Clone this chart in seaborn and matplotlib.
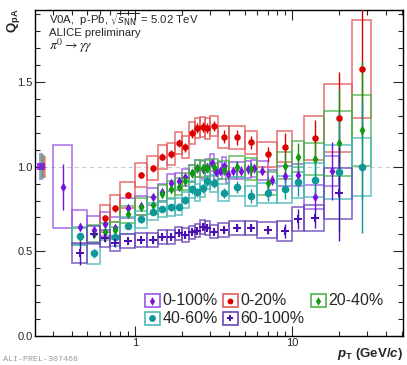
import numpy as np
import pandas as pd
import matplotlib
matplotlib.use("Agg")
import matplotlib.pyplot as plt
import seaborn as sns
from matplotlib.patches import Rectangle
from matplotlib.ticker import MultipleLocator, FixedLocator, LogLocator, NullFormatter, FormatStrFormatter

# pi0 Q_pA vs pT (GeV/c)
# bin edges, central value, stat. error, syst. error for each centrality class
mb_lo = [0.3, 0.4, 0.5, 0.6, 0.7, 0.8, 1.0, 1.2, 1.4, 1.6, 1.8, 2.0, 2.2, 2.4, 2.6, 2.8, 3.0, 3.2, 3.4, 3.6, 3.8, 4.0, 4.5, 5.0, 5.5, 6.0, 7.0, 8.0, 10, 12, 16]
mb_hi = [0.4, 0.5, 0.6, 0.7, 0.8, 1.0, 1.2, 1.4, 1.6, 1.8, 2.0, 2.2, 2.4, 2.6, 2.8, 3.0, 3.2, 3.4, 3.6, 3.8, 4.0, 4.5, 5.0, 5.5, 6.0, 7.0, 8.0, 10, 12, 16, 20]
mb_val = [0.881, 0.645, 0.626, 0.661, 0.636, 0.757, 0.769, 0.822, 0.85, 0.905, 0.915, 0.937, 0.96, 0.99, 0.984, 0.996, 1.023, 0.97, 0.976, 1.004, 0.955, 0.976, 0.976, 0.984, 0.99, 0.976, 0.923, 0.946, 0.95, 0.822, 0.974]
mb_stat = [0.135, 0.02, 0.02, 0.02, 0.02, 0.015, 0.015, 0.015, 0.015, 0.015, 0.015, 0.015, 0.015, 0.02, 0.02, 0.02, 0.02, 0.02, 0.02, 0.02, 0.02, 0.02, 0.025, 0.025, 0.025, 0.025, 0.03, 0.04, 0.05, 0.07, 0.17]
mb_sys = [0.244, 0.10, 0.08, 0.07, 0.065, 0.06, 0.055, 0.05, 0.05, 0.05, 0.05, 0.05, 0.05, 0.05, 0.05, 0.05, 0.05, 0.05, 0.05, 0.05, 0.05, 0.05, 0.05, 0.05, 0.05, 0.055, 0.06, 0.06, 0.065, 0.07, 0.09]

c020_lo = [0.6, 0.7, 0.8, 1.0, 1.2, 1.4, 1.6, 1.8, 2.0, 2.2, 2.4, 2.6, 2.8, 3.0, 3.4, 4.0, 5.0, 6.0, 8.0, 12, 16, 24]
c020_hi = [0.7, 0.8, 1.0, 1.2, 1.4, 1.6, 1.8, 2.0, 2.2, 2.4, 2.6, 2.8, 3.0, 3.4, 4.0, 5.0, 6.0, 8.0, 10, 16, 24, 32]
c020_val = [0.695, 0.754, 0.832, 0.95, 0.99, 1.058, 1.074, 1.141, 1.114, 1.196, 1.23, 1.236, 1.226, 1.24, 1.177, 1.173, 1.143, 1.073, 1.118, 1.167, 1.289, 1.576]
c020_stat = [0.02, 0.02, 0.02, 0.02, 0.02, 0.02, 0.025, 0.025, 0.025, 0.025, 0.03, 0.03, 0.03, 0.03, 0.04, 0.045, 0.04, 0.045, 0.08, 0.11, 0.27, 0.40]
c020_sys = [0.08, 0.08, 0.075, 0.07, 0.07, 0.07, 0.065, 0.065, 0.065, 0.065, 0.06, 0.06, 0.06, 0.06, 0.065, 0.066, 0.07, 0.075, 0.09, 0.13, 0.20, 0.29]

c2040_lo = [0.4, 0.5, 0.6, 0.7, 0.8, 1.0, 1.2, 1.4, 1.6, 1.8, 2.0, 2.2, 2.4, 2.6, 2.8, 3.0, 3.4, 4.0, 5.0, 6.0, 8.0, 10, 12, 16, 24]
c2040_hi = [0.5, 0.6, 0.7, 0.8, 1.0, 1.2, 1.4, 1.6, 1.8, 2.0, 2.2, 2.4, 2.6, 2.8, 3.0, 3.4, 4.0, 5.0, 6.0, 8.0, 10, 12, 16, 24, 32]
c2040_val = [0.585, 0.603, 0.616, 0.626, 0.72, 0.763, 0.773, 0.84, 0.866, 0.88, 0.913, 0.96, 0.99, 0.99, 0.99, 0.996, 0.98, 1.0, 0.984, 0.901, 1.005, 1.059, 1.045, 1.137, 1.216]
c2040_stat = [0.02, 0.02, 0.02, 0.02, 0.02, 0.02, 0.02, 0.02, 0.02, 0.02, 0.025, 0.025, 0.025, 0.025, 0.03, 0.03, 0.03, 0.035, 0.04, 0.04, 0.07, 0.08, 0.10, 0.32, 0.41]
c2040_sys = [0.05, 0.05, 0.05, 0.05, 0.05, 0.05, 0.05, 0.05, 0.05, 0.05, 0.05, 0.05, 0.05, 0.05, 0.05, 0.05, 0.055, 0.06, 0.065, 0.07, 0.08, 0.09, 0.095, 0.19, 0.21]

c4060_lo = [0.4, 0.5, 0.7, 0.8, 1.0, 1.2, 1.4, 1.6, 1.8, 2.0, 2.2, 2.4, 2.6, 2.8, 3.0, 3.4, 4.0, 5.0, 6.0, 8.0, 10, 12, 16, 24]
c4060_hi = [0.5, 0.6, 0.8, 1.0, 1.2, 1.4, 1.6, 1.8, 2.0, 2.2, 2.4, 2.6, 2.8, 3.0, 3.4, 4.0, 5.0, 6.0, 8.0, 10, 12, 16, 24, 32]
c4060_val = [0.59, 0.488, 0.586, 0.651, 0.69, 0.734, 0.75, 0.76, 0.763, 0.803, 0.866, 0.848, 0.872, 0.917, 0.901, 0.846, 0.881, 0.826, 0.846, 0.866, 0.907, 0.923, 0.966, 0.999]
c4060_stat = [0.02, 0.025, 0.02, 0.02, 0.02, 0.02, 0.02, 0.02, 0.02, 0.025, 0.025, 0.025, 0.025, 0.03, 0.03, 0.03, 0.035, 0.04, 0.05, 0.06, 0.08, 0.10, 0.35, 0.39]
c4060_sys = [0.055, 0.06, 0.055, 0.05, 0.05, 0.05, 0.05, 0.05, 0.05, 0.05, 0.05, 0.05, 0.05, 0.05, 0.05, 0.05, 0.055, 0.06, 0.06, 0.08, 0.09, 0.10, 0.16, 0.17]

c60100_lo = [0.4, 0.5, 0.6, 0.7, 0.8, 1.0, 1.2, 1.4, 1.6, 1.8, 2.0, 2.2, 2.4, 2.6, 2.8, 3.0, 3.4, 4.0, 5.0, 6.0, 8.0, 10, 12, 16]
c60100_hi = [0.5, 0.6, 0.7, 0.8, 1.0, 1.2, 1.4, 1.6, 1.8, 2.0, 2.2, 2.4, 2.6, 2.8, 3.0, 3.4, 4.0, 5.0, 6.0, 8.0, 10, 12, 16, 24]
c60100_val = [0.492, 0.602, 0.577, 0.547, 0.561, 0.567, 0.567, 0.586, 0.586, 0.606, 0.596, 0.612, 0.622, 0.642, 0.639, 0.616, 0.626, 0.639, 0.639, 0.626, 0.62, 0.69, 0.698, 0.842]
c60100_stat = [0.07, 0.02, 0.02, 0.02, 0.015, 0.015, 0.015, 0.015, 0.015, 0.015, 0.015, 0.015, 0.015, 0.015, 0.015, 0.015, 0.02, 0.02, 0.02, 0.025, 0.04, 0.06, 0.06, 0.28]
c60100_sys = [0.06, 0.05, 0.05, 0.045, 0.04, 0.04, 0.04, 0.04, 0.04, 0.04, 0.04, 0.04, 0.04, 0.04, 0.04, 0.04, 0.04, 0.04, 0.04, 0.045, 0.06, 0.07, 0.077, 0.15]

# normalisation uncertainties drawn at Q_pA = 1 on the left
norm_labels = ["60-100%", "40-60%", "20-40%", "0-20%", "0-100%"]
norm_unc = [0.08, 0.075, 0.07, 0.065, 0.02]

labels = ["0-100%", "0-20%", "20-40%", "40-60%", "60-100%"]

# style per class: marker colour, box colour, marker, size
style = {
    "0-100%": ("#7a10e0", "#9a55e6", "d", 24),
    "0-20%": ("#dd0000", "#e25a5a", "o", 22),
    "20-40%": ("#0f9a0f", "#4cb44c", "d", 24),
    "40-60%": ("#0f9898", "#4cb8b8", "o", 30),
    "60-100%": ("#4a10b0", "#6a44b8", "P", 30),
}

series = {
    "0-100%": (mb_lo, mb_hi, mb_val, mb_stat, mb_sys),
    "0-20%": (c020_lo, c020_hi, c020_val, c020_stat, c020_sys),
    "20-40%": (c2040_lo, c2040_hi, c2040_val, c2040_stat, c2040_sys),
    "40-60%": (c4060_lo, c4060_hi, c4060_val, c4060_stat, c4060_sys),
    "60-100%": (c60100_lo, c60100_hi, c60100_val, c60100_stat, c60100_sys),
}

sns.set_style("ticks")
plt.rcParams["font.family"] = ["Liberation Sans", "DejaVu Sans"]
plt.rcParams["mathtext.fontset"] = "custom"
plt.rcParams["mathtext.rm"] = "Liberation Sans:bold"
plt.rcParams["mathtext.it"] = "Liberation Sans:bold:italic"
plt.rcParams["mathtext.bf"] = "Liberation Sans:bold"

fig = plt.figure(figsize=(4.07, 3.65), dpi=100)
ax = fig.add_axes([0.0848, 0.0795, 0.9054, 0.8931])
ax.set_xscale("log")

ax.axhline(1.0, color="#cccccc", ls=(0, (4, 3)), lw=0.8, zorder=0)

# normalisation boxes
for i, (lab, u) in enumerate(zip(norm_labels, norm_unc)):
    if lab == "0-100%":
        ax.add_patch(Rectangle((0.238, 1 - u), 0.032, 2 * u, color=style[lab][0], alpha=0.8, lw=0, zorder=1))
    else:
        x0 = 0.246 + 0.004 * i
        ax.add_patch(Rectangle((x0, 1 - u), 0.014, 2 * u, color=style[lab][1], alpha=0.55, lw=0, zorder=1))

frames = []
for lab in labels:
    lo, hi, val, stat, sys_ = series[lab]
    df = pd.DataFrame({"lo": lo, "hi": hi, "val": val, "stat": stat, "sys": sys_})
    df["pt"] = (df["lo"] + df["hi"]) / 2
    df["cls"] = lab
    frames.append(df)
    col, bcol, mk, sz = style[lab]
    for _, r in df.iterrows():
        ax.add_patch(Rectangle((r["lo"], r["val"] - r["sys"]), r["hi"] - r["lo"], 2 * r["sys"],
                               fill=False, edgecolor=bcol, lw=1.2, alpha=0.8, zorder=2))
    ax.errorbar(df["pt"], df["val"], yerr=df["stat"], fmt="none", ecolor=col, elinewidth=1.0, zorder=3)

data = pd.concat(frames, ignore_index=True)
for lab in labels:
    col, bcol, mk, sz = style[lab]
    sns.scatterplot(data=data[data["cls"] == lab], x="pt", y="val", marker=mk, color=col,
                    s=sz, linewidth=0, ax=ax, zorder=4, legend=False)

ax.set_xlim(0.23, 51)
ax.set_ylim(0, 1.925)
ax.set_xlabel("")
ax.set_ylabel("")

ax.yaxis.set_major_locator(MultipleLocator(0.5))
ax.yaxis.set_minor_locator(MultipleLocator(0.1))
ax.yaxis.set_major_formatter(FormatStrFormatter("%.1f"))
ax.xaxis.set_major_locator(FixedLocator([1, 10]))
ax.xaxis.set_major_formatter(FormatStrFormatter("%g"))
ax.xaxis.set_minor_locator(LogLocator(base=10, subs=np.arange(2, 10)))
ax.xaxis.set_minor_formatter(NullFormatter())
ax.tick_params(which="both", direction="in", top=True, right=True, width=0.8, labelsize=8, pad=1.5)
ax.tick_params(which="major", length=7)
ax.tick_params(which="minor", length=3.6)
for s in ax.spines.values():
    s.set_linewidth(1.0)
    s.set_color("black")

# axis titles
ax.text(1.0, -0.055, r"$p_{\mathrm{T}}$ (GeV/$c$)", transform=ax.transAxes, ha="right", va="center",
        fontsize=9.5, fontweight="bold")
ax.text(-0.058, 1.005, r"$\mathrm{Q}_{\mathrm{pA}}$", transform=ax.transAxes, ha="center", va="top",
        rotation=90, fontsize=9.5, fontweight="bold")

# header text
ax.text(0.04, 0.9693, r"V0A,  p-Pb, $\sqrt{s_{\rm NN}}$ = 5.02 TeV", transform=ax.transAxes,
        ha="left", va="center", fontsize=8.2, math_fontfamily="dejavusans")
ax.text(0.04, 0.9294, "ALICE preliminary", transform=ax.transAxes, ha="left", va="center", fontsize=8.2)
ax.text(0.04, 0.8896, r"$\pi^{0} \rightarrow \gamma\gamma$", transform=ax.transAxes, ha="left", va="center",
        fontsize=10, math_fontfamily="stix")

# legend, ROOT style boxed markers
leg_pos = {
    "0-100%": (0.300, 0.108),
    "0-20%": (0.511, 0.108),
    "20-40%": (0.750, 0.108),
    "40-60%": (0.300, 0.055),
    "60-100%": (0.511, 0.055),
}
for lab, (lx, ly) in leg_pos.items():
    col, bcol, mk, sz = style[lab]
    ax.add_patch(Rectangle((lx, ly - 0.02), 0.040, 0.04, transform=ax.transAxes, fill=False,
                           edgecolor=bcol, lw=1.2, zorder=5))
    ax.scatter([lx + 0.020], [ly], transform=ax.transAxes, marker=mk, color=col, s=sz * 0.8,
               linewidth=0, zorder=6)
    ax.text(lx + 0.048, ly, lab, transform=ax.transAxes, ha="left", va="center", fontsize=11.5)

fig.text(0.008, 0.015, "ALI-PREL-307468", family="Liberation Mono", fontsize=6, color="#9a9a9a",
         ha="left", va="center")

fig.savefig("out.png", dpi=100)
